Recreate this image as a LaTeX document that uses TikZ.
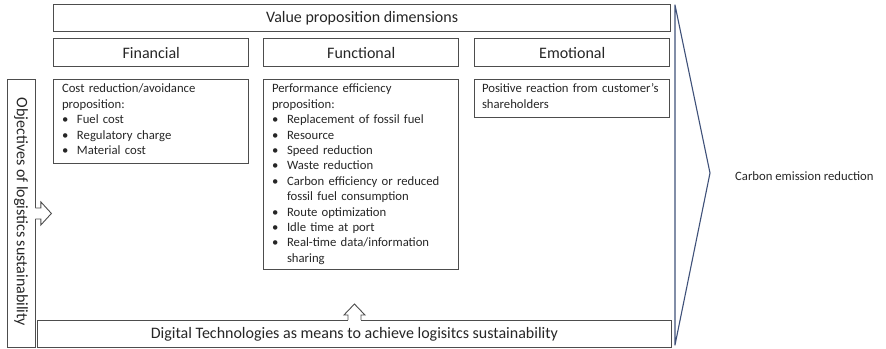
\documentclass[tikz,border=0pt]{standalone}
\usepackage{fontspec}
\setmainfont{Carlito}
\usetikzlibrary{calc}
\definecolor{edge}{HTML}{4D4D4D}
\definecolor{ink}{HTML}{262626}
\definecolor{slate}{HTML}{3F5179}
\newcommand{\bul}[1]{\par\hangindent=15pt\hangafter=1\noindent\makebox[15pt][l]{•}#1}
\newcommand{\bodystart}{\setlength{\parindent}{0pt}\raggedright\rule{0pt}{11pt}}
\begin{document}
\begin{tikzpicture}[x=1pt,y=-1pt,
  boxnode/.style={draw=edge, line width=0.9pt, inner sep=0pt, anchor=north west},
  hdr/.style={font=\fontsize{16}{19}\selectfont, text=ink},
  body/.style={anchor=north west, inner sep=0pt, text=ink,
    font=\fontsize{12.7}{15.4}\selectfont, text width=#1},
  blockarrow/.style={draw=edge, line width=0.9pt, fill=white, line join=miter}
]
\useasboundingbox (0,0) rectangle (886,348);

% header row
\node[boxnode, hdr, minimum width=616.7pt, minimum height=27pt] (value) at (53.3,4) {Value proposition dimensions};
\node[boxnode, hdr, minimum width=195pt, minimum height=27.7pt] (fin) at (53.3,38.3) {Financial};
\node[boxnode, hdr, minimum width=195pt, minimum height=27.7pt] (fun) at (263.3,38.3) {Functional};
\node[boxnode, hdr, minimum width=195pt, minimum height=27.7pt] (emo) at (474.3,38.3) {Emotional};

% content boxes
\node[boxnode, minimum width=195pt, minimum height=84pt] (cost) at (53.3,79.3) {};
\node[boxnode, minimum width=195pt, minimum height=190pt] (perf) at (263.3,79.3) {};
\node[boxnode, minimum width=195pt, minimum height=38pt] (pos) at (474.3,79.3) {};

\node[body=182pt] (costtxt) at ($(cost.north west)+(8.5,2.3)$)
  {\bodystart Cost reduction/avoidance\newline proposition:%
   \bul{Fuel cost}\bul{Regulatory charge}\bul{Material cost}\par};
\node[body=182pt] (perftxt) at ($(perf.north west)+(8.5,2.3)$)
  {\bodystart Performance efficiency\newline proposition:%
   \bul{Replacement of fossil fuel}\bul{Resource}\bul{Speed reduction}%
   \bul{Waste reduction}\bul{Carbon efficiency or reduced\newline fossil fuel consumption}%
   \bul{Route optimization}\bul{Idle time at port}%
   \bul{Real-time data/information\newline sharing}\par};
\node[body=182pt] (postxt) at ($(pos.north west)+(7.5,2.3)$)
  {\bodystart Positive reaction from customer’s\newline shareholders\par};

% side and bottom boxes
\node[boxnode, minimum width=27.5pt, minimum height=268pt] (obj) at (7,79) {};
\node[hdr, rotate=-90] (objtxt) at (21,212) {Objectives of logistics sustainability};
\node[boxnode, hdr, minimum width=634pt, minimum height=27pt] (dig) at (37,320) {Digital Technologies as means to achieve logisitcs sustainability};

% block arrows
\fill[white] ($(obj.east)+(-1,-5.5)$) rectangle ($(obj.east)+(1,5.5)$);
\draw[blockarrow] ($(obj.east)+(0,-5.5)$) -- ++(5.5,0) -- ++(0,-6) -- ($(obj.east)+(16,0)$)
  -- ($(obj.east)+(5.5,11.5)$) -- ++(0,-6) -- ($(obj.east)+(0,5.5)$);
\fill[white] ($(dig.north)+(-6.5,-1)$) rectangle ($(dig.north)+(6.5,1)$);
\draw[blockarrow] ($(dig.north)+(-6.5,0)$) -- ++(0,-5) -- ++(-4,0) -- ($(dig.north)+(0,-16)$)
  -- ($(dig.north)+(10.5,-5)$) -- ++(-4,0) -- ($(dig.north)+(6.5,0)$);

% triangle bracket
\coordinate (ttop) at (675,5);
\coordinate (tbot) at (675,345);
\coordinate (tapex) at (710,173);
\draw[slate, line width=1.1pt, line join=round] (ttop) -- (tapex) -- (tbot) -- cycle;
\node[anchor=base west, inner sep=0pt, text=ink, font=\fontsize{12.7}{15.4}\selectfont] (carbon) at (735,180) {Carbon emission reduction};
\end{tikzpicture}
\end{document}
